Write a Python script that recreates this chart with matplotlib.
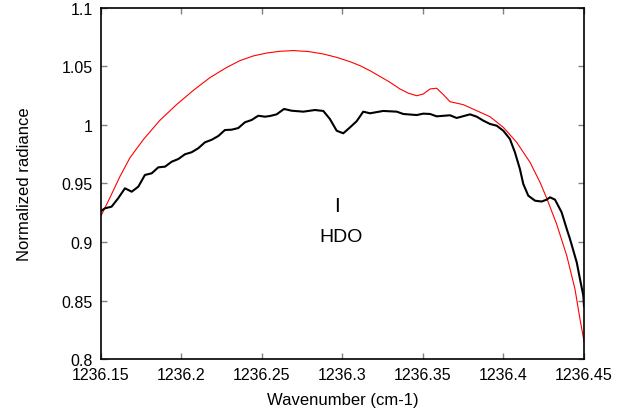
import matplotlib
matplotlib.use("Agg")
import matplotlib.pyplot as plt

# Observed spectrum (black)
obs_wn = [1236.1500, 1236.1525, 1236.1566, 1236.1607, 1236.1649, 1236.1691, 1236.1732,
          1236.1773, 1236.1815, 1236.1856, 1236.1898, 1236.1939, 1236.1980, 1236.2022,
          1236.2063, 1236.2104, 1236.2146, 1236.2188, 1236.2229, 1236.2270, 1236.2312,
          1236.2353, 1236.2394, 1236.2436, 1236.2477, 1236.2519, 1236.2550, 1236.2591,
          1236.2637, 1236.2684, 1236.2757, 1236.2829, 1236.2881, 1236.2922, 1236.2964,
          1236.3005, 1236.3047, 1236.3088, 1236.3129, 1236.3171, 1236.3253, 1236.3337,
          1236.3378, 1236.3461, 1236.3502, 1236.3544, 1236.3585, 1236.3668, 1236.3709,
          1236.3792, 1236.3834, 1236.3875, 1236.3916, 1236.3958, 1236.3999, 1236.4040,
          1236.4071, 1236.4102, 1236.4123, 1236.4154, 1236.4196, 1236.4237, 1236.4268,
          1236.4289, 1236.4320, 1236.4361, 1236.4393, 1236.4413, 1236.4455, 1236.4475,
          1236.4496, 1236.4500]
obs_rad = [0.9265, 0.9288, 0.9302, 0.9374, 0.9459, 0.9430, 0.9473,
           0.9573, 0.9587, 0.9638, 0.9644, 0.9686, 0.9709, 0.9750,
           0.9767, 0.9801, 0.9852, 0.9874, 0.9906, 0.9957, 0.9960,
           0.9974, 1.0023, 1.0043, 1.0079, 1.0071, 1.0077, 1.0091,
           1.0137, 1.0122, 1.0114, 1.0128, 1.0120, 1.0051, 0.9951,
           0.9929, 0.9980, 1.0032, 1.0114, 1.0100, 1.0120, 1.0114,
           1.0094, 1.0085, 1.0097, 1.0094, 1.0074, 1.0083, 1.0060,
           1.0091, 1.0071, 1.0037, 1.0009, 0.9994, 0.9951, 0.9880,
           0.9767, 0.9624, 0.9496, 0.9396, 0.9353, 0.9346, 0.9362,
           0.9382, 0.9362, 0.9254, 0.9111, 0.9026, 0.8826, 0.8684,
           0.8541, 0.8453]

# Model spectrum (red)
mod_wn = [1236.1500, 1236.1556, 1236.1618, 1236.1680, 1236.1763, 1236.1866, 1236.1970,
          1236.2073, 1236.2177, 1236.2281, 1236.2363, 1236.2446, 1236.2529, 1236.2612,
          1236.2694, 1236.2788, 1236.2881, 1236.2964, 1236.3047, 1236.3109, 1236.3171,
          1236.3233, 1236.3295, 1236.3357, 1236.3409, 1236.3461, 1236.3502, 1236.3544,
          1236.3585, 1236.3626, 1236.3668, 1236.3750, 1236.3834, 1236.3916, 1236.3999,
          1236.4082, 1236.4165, 1236.4227, 1236.4268, 1236.4330, 1236.4393, 1236.4444,
          1236.4475, 1236.4500]
mod_rad = [0.9222, 0.9380, 0.9560, 0.9720, 0.9875, 1.0040, 1.0175,
           1.0295, 1.0405, 1.0492, 1.0550, 1.0590, 1.0615, 1.0630,
           1.0636, 1.0628, 1.0607, 1.0578, 1.0541, 1.0507, 1.0464,
           1.0415, 1.0365, 1.0308, 1.0272, 1.0250, 1.0265, 1.0308,
           1.0314, 1.0260, 1.0199, 1.0174, 1.0122, 1.0071, 0.9980,
           0.9852, 0.9681, 0.9510, 0.9376, 0.9154, 0.8883, 0.8598,
           0.8342, 0.8154]

x_ticks = [1236.15, 1236.2, 1236.25, 1236.3, 1236.35, 1236.4, 1236.45]
x_labels = ["1236.15", "1236.2", "1236.25", "1236.3", "1236.35", "1236.4", "1236.45"]
y_ticks = [0.8, 0.85, 0.9, 0.95, 1.0, 1.05, 1.1]
y_labels = ["0.8", "0.85", "0.9", "0.95", "1", "1.05", "1.1"]

plt.rcParams['font.family'] = ['Liberation Sans', 'DejaVu Sans']

fig = plt.figure(figsize=(6.39, 4.14), dpi=100)
ax = fig.add_axes([0.158, 0.1304, 0.7559, 0.8479])

ax.plot(obs_wn, obs_rad, color='black', lw=1.5, zorder=3)
ax.plot(mod_wn, mod_rad, color='#ff0000', lw=0.8, zorder=2)

ax.set_xlim(1236.15, 1236.45)
ax.set_ylim(0.8, 1.1)
ax.set_xticks(x_ticks)
ax.set_xticklabels(x_labels)
ax.set_yticks(y_ticks)
ax.set_yticklabels(y_labels)
ax.tick_params(direction='in', top=True, right=True, length=4.5, width=1,
               color='#808080', labelsize=11.5, pad=6)
for sp in ax.spines.values():
    sp.set_linewidth(1.2)

ax.set_xlabel('Wavenumber (cm-1)', fontsize=12, labelpad=7)
ax.set_ylabel('Normalized radiance', fontsize=12, labelpad=21)

ax.text(1236.2966, 0.9308, 'I', fontsize=15, ha='center', va='center')
ax.text(1236.2990, 0.9050, 'HDO', fontsize=14, ha='center', va='center')

fig.savefig('out.png', dpi=100)
